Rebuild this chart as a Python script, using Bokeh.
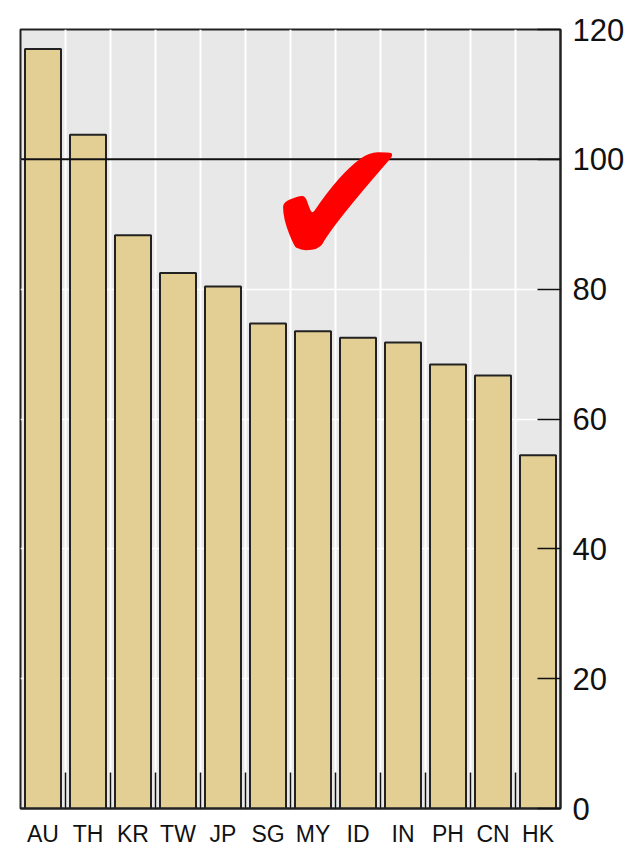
from bokeh.plotting import figure
from bokeh.models import Range1d, FixedTicker, Span, Label
from bokeh.embed import file_html
from bokeh.resources import INLINE

# ---- data ----
categories = ["AU", "TH", "KR", "TW", "JP", "SG", "MY", "ID", "IN", "PH", "CN", "HK"]
values = [117.0, 103.8, 88.3, 82.5, 80.4, 74.7, 73.5, 72.5, 71.8, 68.4, 66.7, 54.4]
y_ticks = [0, 20, 40, 60, 80, 100, 120]
reference_level = 100

n = len(categories)
centers = [i + 0.5 for i in range(n)]
bounds = list(range(1, n))

FONT = "Liberation Sans Narrow, Arial Narrow, Liberation Sans, sans-serif"

p = figure(width=633, height=850,
           x_range=Range1d(0, n), y_range=Range1d(0, 120),
           output_backend="svg", toolbar_location=None,
           y_axis_location="right",
           min_border_left=20, min_border_top=29,
           min_border_bottom=42, min_border_right=73)

p.background_fill_color = "#E8E8E8"
p.border_fill_color = "white"
p.outline_line_color = "#222222"
p.outline_line_width = 2

# grids
p.xgrid.ticker = FixedTicker(ticks=bounds)
p.xgrid.grid_line_color = "white"
p.xgrid.grid_line_width = 2
p.ygrid.ticker = FixedTicker(ticks=y_ticks)
p.ygrid.grid_line_color = "white"
p.ygrid.grid_line_width = 1.5

# bars
p.vbar(x=centers, top=values, bottom=0, width=0.8,
       fill_color="#E3CF93", line_color="#222222", line_width=2)

# reference line
p.add_layout(Span(location=reference_level, dimension="width",
                  line_color="#111111", line_width=2))

# check mark
p.add_layout(Label(x=7.05, y=93.2, text="\u2714", text_color="#FF0000",
                   text_font_size="180px", text_font="DejaVu Sans",
                   text_align="center", text_baseline="middle"))

# x axis
xa = p.xaxis[0]
xa.ticker = FixedTicker(ticks=centers, minor_ticks=bounds)
xa.major_label_overrides = {c: lab for c, lab in zip(centers, categories)}
xa.major_tick_in = 0
xa.major_tick_out = 0
xa.minor_tick_in = 36
xa.minor_tick_out = 0
xa.minor_tick_line_color = "#111111"
xa.minor_tick_line_width = 1.5
xa.axis_line_color = "#222222"
xa.axis_line_width = 2
xa.major_label_text_font = FONT
xa.major_label_text_font_size = "23px"
xa.major_label_text_color = "#111111"
xa.major_label_standoff = 12

# y axis (right)
ya = p.yaxis[0]
ya.ticker = FixedTicker(ticks=y_ticks)
ya.major_tick_in = 23
ya.major_tick_out = 0
ya.major_tick_line_color = "#111111"
ya.major_tick_line_width = 1.5
ya.minor_tick_line_color = None
ya.axis_line_color = "#222222"
ya.axis_line_width = 2
ya.major_label_text_font = FONT
ya.major_label_text_font_size = "31px"
ya.major_label_text_color = "#111111"
ya.major_label_standoff = 12

open("out.html", "w").write(file_html(p, INLINE))
